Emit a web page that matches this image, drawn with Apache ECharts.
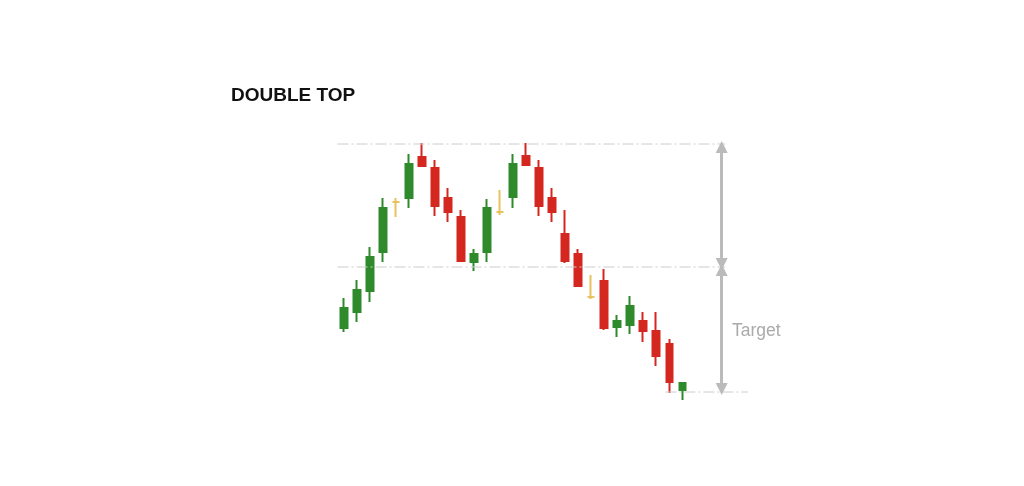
<!DOCTYPE html>
<html>
<head>
<meta charset="utf-8">
<script src="https://cdn.jsdelivr.net/npm/echarts@6/dist/echarts.min.js"></script>
<style>
html,body{margin:0;padding:0;background:#fff;}
#chart{width:1024px;height:486px;}
</style>
</head>
<body>
<div id="chart"></div>
<script>
// ---- data ----
const title = 'DOUBLE TOP';
const targetLabel = 'Target';
const sessions = ['1','2','3','4','5','6','7','8','9','10','11','12','13','14','15','16','17','18','19','20','21','22','23','24','25','26','27','28','29','30','31','32','33','34','35'];
// [open, close, low, high]
const opens  = [92,108,129,168,218,222,263,252,222,203,158,168,208,223,264,252,222,186,166,123,139,93,95,99,89,76,30];
const closes = [112,130,163,212,218,256,254,214,208,159,166,212,208,256,255,214,208,159,134,123,92,99,114,89,64,38,37];
const lows   = [88,98,118,158,203,212,254,204,198,158,149,158,205,212,255,204,198,157,133,121,90,83,86,78,54,27,20];
const highs  = [122,140,173,222,222,266,277,260,232,210,171,221,230,266,277,260,232,210,171,145,151,105,124,108,108,81,37];
// candle kind: g = bullish, r = bearish, y = indecision
const kinds = ['g','g','g','g','y','g','r','r','r','r','g','g','y','g','r','r','r','r','r','y','r','g','g','r','r','r','g'];
const topLevel = 276;
const necklineLevel = 153;
const targetLevel = 28;

const colors = { g: '#2f8a2c', r: '#d4271f', y: '#e8c25a' };

const candleData = opens.map((o, i) => ({
  value: [o, closes[i], lows[i], highs[i]],
  itemStyle: { color: colors[kinds[i]], color0: colors[kinds[i]], borderColor: colors[kinds[i]], borderColor0: colors[kinds[i]] }
}));

const band = 13.01;
const nCat = sessions.length;
const chart = echarts.init(document.getElementById('chart'));
const dashStyle = { color: '#cccccc', width: 1, type: [11, 3, 2, 3] };

chart.setOption({
  animation: false,
  backgroundColor: '#fff',
  grid: { left: 337.5, top: 120, width: band * nCat, height: 300 },
  xAxis: [
    { type: 'category', data: sessions, show: false, boundaryGap: true },
    { type: 'value', min: -0.5, max: nCat - 0.5, show: false }
  ],
  yAxis: { type: 'value', min: 0, max: 300, show: false },
  series: [
    {
      type: 'line', xAxisIndex: 1, symbol: 'none', lineStyle: dashStyle, silent: true,
      data: [[-0.5, topLevel], [29.3, topLevel]]
    },
    {
      type: 'line', xAxisIndex: 1, symbol: 'none', lineStyle: dashStyle, silent: true,
      data: [[-0.5, necklineLevel], [29.3, necklineLevel]]
    },
    {
      type: 'line', xAxisIndex: 1, symbol: 'none', lineStyle: dashStyle, silent: true,
      data: [[24.7, targetLevel], [31.05, targetLevel]],
      markLine: {
        silent: true,
        symbol: ['triangle', 'triangle'],
        symbolSize: [12, 12],
        label: { show: false },
        lineStyle: { color: '#bbbbbb', width: 3, type: 'solid' },
        data: [
          [{ coord: [29.03, topLevel - 3] }, { coord: [29.03, necklineLevel + 3] }],
          [{ coord: [29.03, necklineLevel - 3] }, { coord: [29.03, targetLevel + 3] }]
        ]
      }
    },
    {
      type: 'candlestick', xAxisIndex: 0, barWidth: 7,
      itemStyle: { borderWidth: 2 },
      data: candleData
    }
  ],
  graphic: [
    { type: 'text', left: 231, top: 86, style: { text: title, font: 'bold 19px "Liberation Sans", Arial, sans-serif', fill: '#111' } },
    { type: 'text', left: 732, top: 322, style: { text: targetLabel, font: '17.5px "Liberation Sans", Arial, sans-serif', fill: '#aaaaaa' } }
  ]
});
</script>
</body>
</html>
